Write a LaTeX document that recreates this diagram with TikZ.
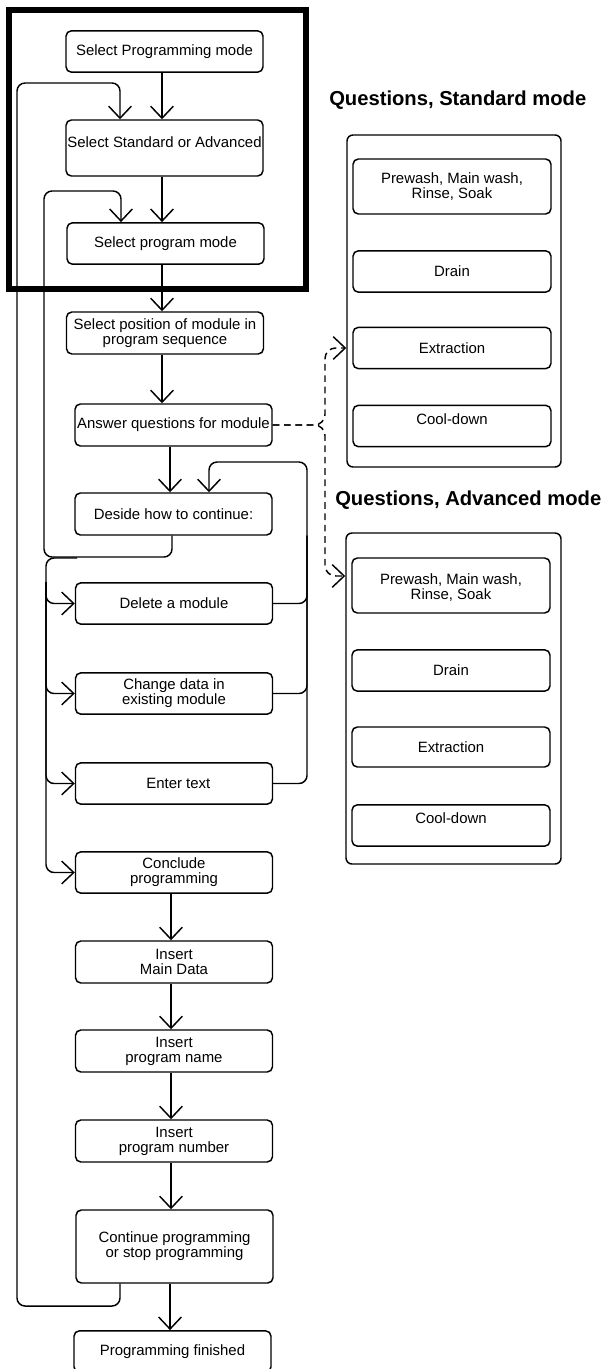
\documentclass[tikz,border=0pt]{standalone}
\usepackage{fontspec}
\setmainfont{Liberation Sans}
\usetikzlibrary{arrows.meta}
\begin{document}
\begin{tikzpicture}[x=0.75pt,y=-0.75pt,
  every node/.style={font=\fontsize{11.2pt}{11.25pt}\selectfont, text=black, align=center},
  box/.style={draw, line width=1.1pt, rounded corners=4pt, inner sep=0pt,
    minimum width=147.75pt, minimum height=31pt},
  qbox/.style={box, minimum width=148.5pt},
  group/.style={draw, line width=1.1pt, rounded corners=4.5pt, inner sep=0pt},
  title/.style={font=\fontsize{15.15pt}{18pt}\selectfont\bfseries, anchor=west, inner sep=0pt},
  line/.style={line width=1.1pt},
  flow/.style={line, -{Straight Barb[length=9pt,width=17pt]}},
  dflow/.style={flow, dash pattern=on 5pt off 3.5pt}
]
\useasboundingbox (0,0) rectangle (605,1369);
\clip (0,0) rectangle (605,1369);
\fill[white] (0,0) rectangle (605,1369);

% heavy frame round the mode selection
\node[draw, line width=4.5pt, inner sep=0pt, minimum width=222.75pt, minimum height=209.25pt] (frame) at (157.5,149.5) {};

% main column
\node[box] (pm) at (164.5,51.5) {Select Programming mode};
\node[box, minimum height=42pt] (sa) at (164.5,148) {};
\node (sat) at (164.5,142) {Select Standard or Advanced};
\node[box] (spm) at (165.5,243.5) {Select program mode};
\node[box, minimum height=31.5pt] (pos) at (165,333) {Select position of module in\\program sequence};
\node[box, minimum height=31.5pt] (ans) at (173.5,425) {Answer questions for module};
\node[box, minimum height=31.5pt] (des) at (173.5,514) {Deside how to continue:};
\node[box] (del) at (174,603.5) {Delete a module};
\node[box] (chg) at (174,693.5) {Change data in\\existing module};
\node[box] (ent) at (174,783.5) {\hspace*{6.5pt}Enter text};
\node[box] (con) at (174,872.5) {Conclude\\programming};
\node[box, minimum height=31.5pt] (imd) at (174,962) {Insert\\Main Data};
\node[box, minimum height=31.5pt] (ipn) at (174,1051) {Insert\\program name};
\node[box, minimum height=31.5pt] (inum) at (174,1141) {Insert\\program number};
\node[box, minimum height=54.75pt] (cont) at (174.5,1246.5) {Continue programming\\or stop programming};
\node[box] (fin) at (172.5,1351.5) {Programming finished};

% question groups
\node[title] (tstd) at (329,100) {Questions, Standard mode};
\node[group, minimum width=160.5pt, minimum height=249pt] (sq) at (454,301) {};
\node[qbox, minimum height=41.25pt] (sp) at (452,186.5) {Prewash, Main wash,\\Rinse, Soak};
\node[qbox] (sd) at (452,271.5) {Drain};
\node[qbox] (se) at (452,348) {Extraction};
\node[qbox] (sc) at (452,426) {};
\node (sct) at (452,419) {Cool-down};

\node[title] (tadv) at (335,500) {Questions, Advanced mode};
\node[group, minimum width=161.25pt, minimum height=248.25pt] (aq) at (453.5,698.5) {};
\node[qbox, minimum height=41.25pt] (ap) at (451,585.5) {};
\node (apt) at (451,587.5) {Prewash, Main wash,\\Rinse, Soak};
\node[qbox] (ad) at (451,670.5) {Drain};
\node[qbox, minimum height=30pt] (ae) at (451,747) {Extraction};
\node[qbox] (ac) at (451,825.5) {};
\node (act) at (451,818) {Cool-down};

% routing columns and rows
\coordinate (c1) at (162,0);
\coordinate (c2) at (170,0);
\coordinate (c3) at (171,0);
\coordinate (xa) at (17,0);
\coordinate (xa2) at (120,0);
\coordinate (ya) at (0,83);
\coordinate (ybot) at (0,1306);
\coordinate (xb) at (44,0);
\coordinate (xb2) at (121,0);
\coordinate (xb3) at (172,0);
\coordinate (yb) at (0,191);
\coordinate (yc) at (0,557);
\coordinate (xbus) at (46,0);
\coordinate (bs) at (77,558);
\coordinate (xr) at (307,0);
\coordinate (yr) at (0,462);
\coordinate (xd2) at (209,0);
\coordinate (xd) at (325,0);
\coordinate (ya2) at (0,576);

% straight flow
\draw[flow] (pm.south -| c1) -- (sa.north -| c1);
\draw[flow] (sa.south -| c1) -- (spm.north -| c1);
\draw[flow] (spm.south -| c1) -- (pos.north -| c1);
\draw[flow] (pos.south -| c1) -- (ans.north -| c1);
\draw[flow] (ans.south -| c2) -- (des.north -| c2);
\draw[flow] (con.south -| c3) -- (imd.north -| c3);
\draw[flow] (imd.south -| c3) -- (ipn.north -| c3);
\draw[flow] (ipn.south -| c3) -- (inum.north -| c3);
\draw[flow] (inum.south -| c3) -- (cont.north -| c3);
\draw[flow] (cont.south -| c2) -- (fin.north -| c2);

% back to standard/advanced selection
\draw[flow, rounded corners=6pt] (cont.south -| xa2) -- (xa2 |- ybot) -- (xa |- ybot)
  -- (xa |- ya) -- (xa2 |- ya) -- (sa.north -| xa2);
% back to program mode selection
\draw[flow, rounded corners=6pt] (des.south -| xb3) -- (xb3 |- yc) -- (xb |- yc)
  -- (xb |- yb) -- (xb2 |- yb) -- (spm.north -| xb2);

% choices after deciding
\draw[flow, rounded corners=6pt] (bs) -- (xbus |- bs) -- (xbus |- con.west) -- (con.west);
\foreach \n in {del,chg,ent}
  \draw[flow, rounded corners=6pt] (xbus |- del.north) -- (xbus |- \n.west) -- (\n.west);

% return to the decision
\draw[flow, rounded corners=6pt] (ent.east) -- (xr |- ent.east) -- (xr |- yr)
  -- (xd2 |- yr) -- (des.north -| xd2);
\foreach \n in {del,chg}
  \draw[line, rounded corners=6pt] (\n.east) -- (xr |- \n.east) -- (xr |- des.south);

% question sets
\draw[dflow, rounded corners=8pt] (ans.east) -- (xd |- ans.east) -- (xd |- se.west) -- (sq.west |- se.west);
\draw[dflow, rounded corners=8pt] (ans.east) -- (xd |- ans.east) -- (xd |- ya2) -- (aq.west |- ya2);
\end{tikzpicture}
\end{document}
